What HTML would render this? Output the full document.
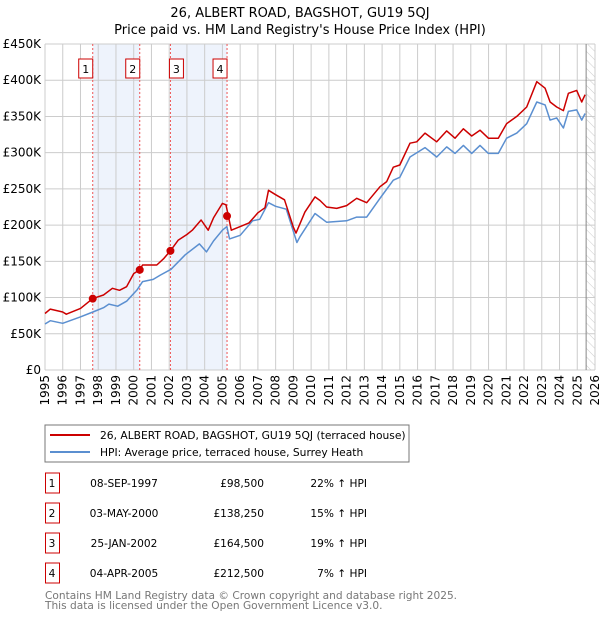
<!DOCTYPE html>
<html><head><meta charset="utf-8"><style>
body{margin:0;background:#fff;}
svg{display:block;font-family:"DejaVu Sans","Liberation Sans",sans-serif;}
</style></head><body>
<svg id="chart" width="600" height="620">
<defs><pattern id="hatch" width="6" height="6" patternUnits="userSpaceOnUse" patternTransform="rotate(-45)"><line x1="0" y1="0" x2="0" y2="6" stroke="#ccc" stroke-width="1"/></pattern></defs>
<text x="300" y="17" text-anchor="middle" font-size="13">26, ALBERT ROAD, BAGSHOT, GU19 5QJ</text>
<text x="300" y="34" text-anchor="middle" font-size="13">Price paid vs. HM Land Registry's House Price Index (HPI)</text>
<g id="plot"></g>
<rect x="45" y="425" width="364" height="37" fill="#fff" stroke="#777"/>
<line x1="50" y1="435" x2="90" y2="435" stroke="#cc0000" stroke-width="2"/>
<text x="100" y="439" font-size="10.7">26, ALBERT ROAD, BAGSHOT, GU19 5QJ (terraced house)</text>
<line x1="50" y1="452" x2="90" y2="452" stroke="#5b8fd0" stroke-width="2"/>
<text x="100" y="456" font-size="10.7">HPI: Average price, terraced house, Surrey Heath</text>
<g id="table" font-size="10.6"></g>
<text x="45" y="599" font-size="10.6" fill="#777">Contains HM Land Registry data © Crown copyright and database right 2025.</text>
<text x="45" y="609" font-size="10.6" fill="#777">This data is licensed under the Open Government Licence v3.0.</text>
</svg>
<script>
const yTicks=[0,50000,100000,150000,200000,250000,300000,350000,400000,450000];
const yTickLabels=["£0","£50K","£100K","£150K","£200K","£250K","£300K","£350K","£400K","£450K"];
const xYears=[1995,1996,1997,1998,1999,2000,2001,2002,2003,2004,2005,2006,2007,2008,2009,2010,2011,2012,2013,2014,2015,2016,2017,2018,2019,2020,2021,2022,2023,2024,2025,2026];
const saleYears=[1997.69,2000.34,2002.07,2005.26];
const salePrices=[98500,138250,164500,212500];
const saleLabels=["1","2","3","4"];
const saleDates=["08-SEP-1997","03-MAY-2000","25-JAN-2002","04-APR-2005"];
const salePriceText=["£98,500","£138,250","£164,500","£212,500"];
const saleHpiText=["22% ↑ HPI","15% ↑ HPI","19% ↑ HPI","7% ↑ HPI"];
const priceYears=[1995.0,1995.3,1996.0,1996.2,1997.0,1997.69,1998.3,1998.8,1999.2,1999.6,2000.0,2000.34,2000.5,2001.0,2001.3,2001.7,2002.07,2002.5,2003.0,2003.3,2003.8,2004.2,2004.5,2005.0,2005.2,2005.5,2006.0,2006.5,2007.0,2007.4,2007.6,2008.0,2008.5,2009.0,2009.15,2009.37,2009.65,2010.22,2010.5,2010.87,2011.44,2012.0,2012.57,2013.13,2013.88,2014.26,2014.63,2015.0,2015.57,2015.95,2016.42,2017.08,2017.64,2018.11,2018.58,2019.05,2019.52,2019.99,2020.55,2021.02,2021.59,2022.15,2022.72,2023.19,2023.47,2023.84,2024.22,2024.5,2024.97,2025.25,2025.44];
const priceValues=[78000,84000,80000,77000,85000,98500,103500,112800,110000,115000,133000,138250,145000,145000,145000,154000,164500,179000,187000,193000,207000,193000,210000,230000,228000,193000,198000,203000,217000,224000,248000,242000,235000,197000,189000,202000,218000,239000,234000,225000,223000,227000,237000,231000,253000,260000,280000,283000,313000,315000,327000,315000,330000,320000,333000,323000,331000,320000,320000,340000,350000,363000,398000,389000,370000,363000,358000,382000,386000,370000,380000];
const hpiYears=[1995.0,1995.3,1996.0,1996.97,1997.7,1998.3,1998.6,1999.1,1999.6,2000.2,2000.5,2001.1,2001.5,2002.1,2002.9,2003.7,2004.1,2004.5,2005.0,2005.25,2005.4,2006.0,2006.7,2007.1,2007.6,2008.0,2008.6,2009.2,2009.37,2010.22,2010.87,2012.0,2012.57,2013.13,2013.88,2014.63,2015.0,2015.57,2016.42,2017.08,2017.64,2018.11,2018.58,2019.05,2019.52,2019.99,2020.55,2021.02,2021.59,2022.15,2022.72,2023.19,2023.47,2023.84,2024.22,2024.5,2024.97,2025.25,2025.44];
const hpiValues=[63500,68000,64500,73000,80000,86000,91000,88000,95000,111000,122000,125000,131000,139000,159000,174000,163000,178000,193000,198000,181000,186000,206000,208000,231000,226000,222000,176000,184000,216000,204000,206000,211000,211000,237000,262000,266000,294000,307000,294000,308000,299000,310000,299000,310000,299000,299000,320000,327000,340000,370000,366000,345000,348000,334000,357000,359000,345000,354000];

const L=45,R=595,T=44,B=370,Y0=1995,Y1=2026,VMAX=450000;
const xs=y=>L+(y-Y0)/(Y1-Y0)*(R-L);
const ys=v=>B-v/VMAX*(B-T);
const NS="http://www.w3.org/2000/svg";
const plot=document.getElementById('plot');
function mk(tag,attrs,parent){const e=document.createElementNS(NS,tag);for(const k in attrs)e.setAttribute(k,attrs[k]);(parent||plot).appendChild(e);return e;}
for(let i=0;i<saleYears.length;i+=2){
  const r=mk('rect',{x:xs(saleYears[i]),y:T,width:xs(saleYears[i+1])-xs(saleYears[i]),height:B-T,fill:'#eef3fc'});
  
  
}
const hr=mk('rect',{x:xs(2025.5),y:T,width:R-xs(2025.5),height:B-T,fill:'url(#hatch)'});


xYears.forEach(y=>{
  const g=mk('line',{x1:xs(y),x2:xs(y),y1:T,y2:B,stroke:'#ccc'});
  
  
  const t=mk('text',{x:0,y:0,'font-size':12,'text-anchor':'end',transform:`translate(${xs(y)+4},${B+5}) rotate(-90)`});
  t.textContent=y;
  
  
});
yTicks.forEach((v,i)=>{
  const g=mk('line',{x1:L,x2:R,y1:ys(v),y2:ys(v),stroke:'#ccc'});
  
  
  const t=mk('text',{x:L-4,y:ys(v)+4,'font-size':12,'text-anchor':'end'});
  t.textContent=yTickLabels[i];
  
  
});
const nl=mk('line',{x1:xs(2025.5),x2:xs(2025.5),y1:T,y2:B,stroke:'#888'});


saleYears.forEach((y,i)=>{
  const l=mk('line',{x1:xs(y),x2:xs(y),y1:T,y2:B,stroke:'#e55',"stroke-dasharray":'2,2'});
  
  
  const bxX=xs(y)-(i==2?0:14)+(i==2?-1:0);
  const bx=mk('rect',{x:bxX,y:59,width:14,height:19,fill:'#fff',stroke:'#cc0000'});
  
  
  const t=mk('text',{x:bxX+7,y:73,'font-size':11,'text-anchor':'middle'});
  t.textContent=saleLabels[i];
  
  
});
function path(xsArr,vs,color,name){
  const d=xsArr.map((y,i)=>(i?'L':'M')+xs(y).toFixed(1)+','+ys(vs[i]).toFixed(1)).join('');
  const p=mk('path',{d,fill:'none',stroke:color,'stroke-width':1.5,'stroke-linejoin':'round'});
  
  
}
path(hpiYears,hpiValues,'#5b8fd0','hpi-line');
path(priceYears,priceValues,'#cc0000','price-line');
saleYears.forEach((y,i)=>{
  const c=mk('circle',{cx:xs(y),cy:ys(salePrices[i]),r:4,fill:'#cc0000'});
  
  
});
const tb=document.getElementById('table');
saleLabels.forEach((s,i)=>{
  const cy=483+i*30;
  const b=mk('rect',{x:45.5,y:cy-10,width:14,height:20,fill:'#fff',stroke:'#cc0000'},tb);
  
  
  const cells=[[52,s,'middle'],[124,saleDates[i],'middle'],[264,salePriceText[i],'end'],[367,saleHpiText[i],'end']];
  cells.forEach(c=>{
    const t=mk('text',{x:c[0],y:cy+4,'text-anchor':c[2]},tb);
    t.textContent=c[1];
    
    
  });
});
</script>
</body></html>
